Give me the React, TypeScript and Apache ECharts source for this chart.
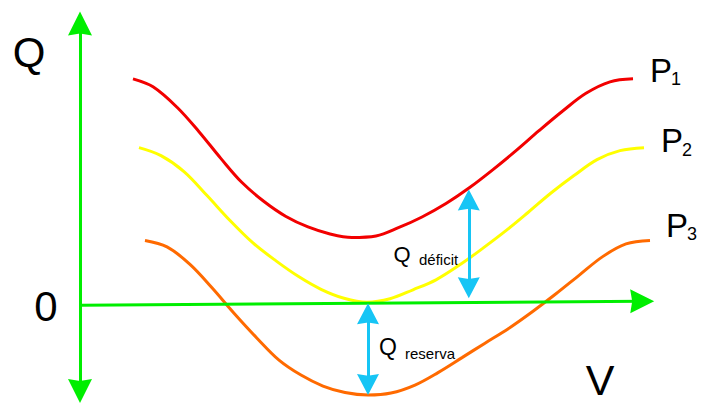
import React, { useEffect, useRef } from "react";
import * as echarts from "echarts";

// Q–V curves: [V, Q]
const p1Curve: number[][] = [
  [0.883, 4.54], [1.217, 4.38], [1.617, 3.97], [1.983, 3.48], [2.35, 2.94], [2.7, 2.46],
  [3.067, 2.08], [3.433, 1.78], [3.8, 1.57], [4.167, 1.43], [4.533, 1.36], [4.933, 1.39],
  [5.317, 1.56], [5.7, 1.77], [6.1, 2.04], [6.483, 2.35], [6.883, 2.72], [7.267, 3.1],
  [7.65, 3.5], [8.05, 3.9], [8.433, 4.25], [8.833, 4.48], [9.217, 4.54],
];
const p2Curve: number[][] = [
  [0.983, 3.16], [1.35, 3.0], [1.733, 2.68], [2.117, 2.2], [2.5, 1.7], [2.883, 1.25],
  [3.267, 0.89], [3.65, 0.57], [4.017, 0.32], [4.4, 0.14], [4.783, 0.06], [5.167, 0.13],
  [5.55, 0.31], [5.933, 0.51], [6.317, 0.8], [6.7, 1.13], [7.083, 1.48], [7.467, 1.86],
  [7.85, 2.25], [8.233, 2.6], [8.617, 2.92], [9.0, 3.1], [9.4, 3.16],
];
const p3Curve: number[][] = [
  [1.083, 1.3], [1.45, 1.17], [1.833, 0.82], [2.2, 0.35], [2.567, -0.16], [2.95, -0.66],
  [3.317, -1.1], [3.683, -1.4], [4.05, -1.62], [4.417, -1.75], [4.8, -1.8], [5.183, -1.76],
  [5.583, -1.6], [5.967, -1.35], [6.367, -1.05], [6.75, -0.76], [7.15, -0.46], [7.55, -0.12],
  [7.933, 0.23], [8.317, 0.6], [8.717, 0.98], [9.1, 1.23], [9.5, 1.3],
];

// axis arrows and annotation arrows: [V, Q] end points
const vAxisArrow: number[][] = [[0, 0], [9.37, 0.08]];
const qAxisArrow: number[][] = [[0, 5.65], [0, -1.72]];
const deficitArrow: number[][] = [[6.48, 2.11], [6.48, 0.35]];
const reservaArrow: number[][] = [[4.8, -0.17], [4.8, -1.59]];

const curveLetters = ["P", "P", "P"];
const curveSubscripts = ["1", "2", "3"];
const axisTitles = ["Q", "V", "0"];
const annotationMain = ["Q", "Q"];
const annotationSub = ["déficit", "reserva"];

const ARROW = "path://M12,0 L24,24 L12,22 L0,24 Z";
const GREEN = "#00ee00";
const BLUE = "#16c5f5";
const FONT = "'Liberation Sans', Arial, sans-serif";

function arrowPair(pts: number[][], startSymbol: string, endSymbol: string) {
  return [
    { coord: pts[0], symbol: startSymbol },
    { coord: pts[1], symbol: endSymbol },
  ];
}

export default function App() {
  const ref = useRef<HTMLDivElement>(null);

  useEffect(() => {
    if (!ref.current) return;
    const chart = echarts.init(ref.current, null, { renderer: "svg" });

    const curveSeries = (name: string, data: number[][], color: string) => ({
      name,
      type: "line",
      data,
      smooth: 0.35,
      showSymbol: false,
      symbol: "none",
      silent: true,
      lineStyle: { color, width: 3 },
      z: 2,
    });

    const txt = (
      text: string,
      x: number,
      y: number,
      size: number,
      align = "center",
      lineHeight?: number
    ) => ({
      type: "text",
      x,
      y,
      silent: true,
      style: {
        text,
        fill: "#000",
        font: `${size}px ${FONT}`,
        align,
        verticalAlign: "middle",
        lineHeight: lineHeight ?? size,
      },
    });

    chart.setOption({
      animation: false,
      backgroundColor: "#fff",
      grid: { left: 80, top: 6, width: 600, height: 400, containLabel: false },
      xAxis: { type: "value", min: 0, max: 10, show: false },
      yAxis: { type: "value", min: -2, max: 6, show: false },
      series: [
        curveSeries("P1", p1Curve, "#f20000"),
        curveSeries("P2", p2Curve, "#ffff00"),
        curveSeries("P3", p3Curve, "#ff6a00"),
        {
          name: "axes",
          type: "line",
          data: [],
          silent: true,
          clip: false,
          z: 3,
          markLine: {
            silent: true,
            animation: false,
            label: { show: false },
            emphasis: { disabled: true },
            symbolSize: [24, 24],
            lineStyle: { color: GREEN, width: 3, type: "solid", opacity: 1 },
            data: [
              arrowPair(vAxisArrow, "none", ARROW),
              arrowPair(qAxisArrow, ARROW, ARROW),
            ],
          },
        },
        {
          name: "annotations",
          type: "line",
          data: [],
          silent: true,
          clip: false,
          z: 4,
          markLine: {
            silent: true,
            animation: false,
            label: { show: false },
            emphasis: { disabled: true },
            symbolSize: [22, 21],
            lineStyle: { color: BLUE, width: 3, type: "solid", opacity: 1 },
            data: [
              arrowPair(deficitArrow, ARROW, ARROW),
              arrowPair(reservaArrow, ARROW, ARROW),
            ],
          },
        },
      ],
      graphic: [
        txt(axisTitles[0], 29, 52, 42),
        txt(axisTitles[1], 600, 380, 43, "center", 32),
        txt(axisTitles[2], 46, 306, 42),
        txt(curveLetters[0], 650, 70, 33, "left"),
        txt(curveSubscripts[0], 671, 79, 18, "left"),
        txt(curveLetters[1], 661, 140, 33, "left"),
        txt(curveSubscripts[1], 682, 150, 18, "left"),
        txt(curveLetters[2], 666, 225, 33, "left"),
        txt(curveSubscripts[2], 687, 234, 18, "left"),
        txt(annotationMain[0], 402, 254, 22),
        txt(annotationSub[0], 419, 259, 15, "left"),
        txt(annotationMain[1], 388, 347, 23),
        txt(annotationSub[1], 405, 353, 15, "left"),
      ],
    });

    return () => chart.dispose();
  }, []);

  return (
    <div
      ref={ref}
      style={{ position: "fixed", left: 0, top: 0, width: 702, height: 405 }}
    />
  );
}
